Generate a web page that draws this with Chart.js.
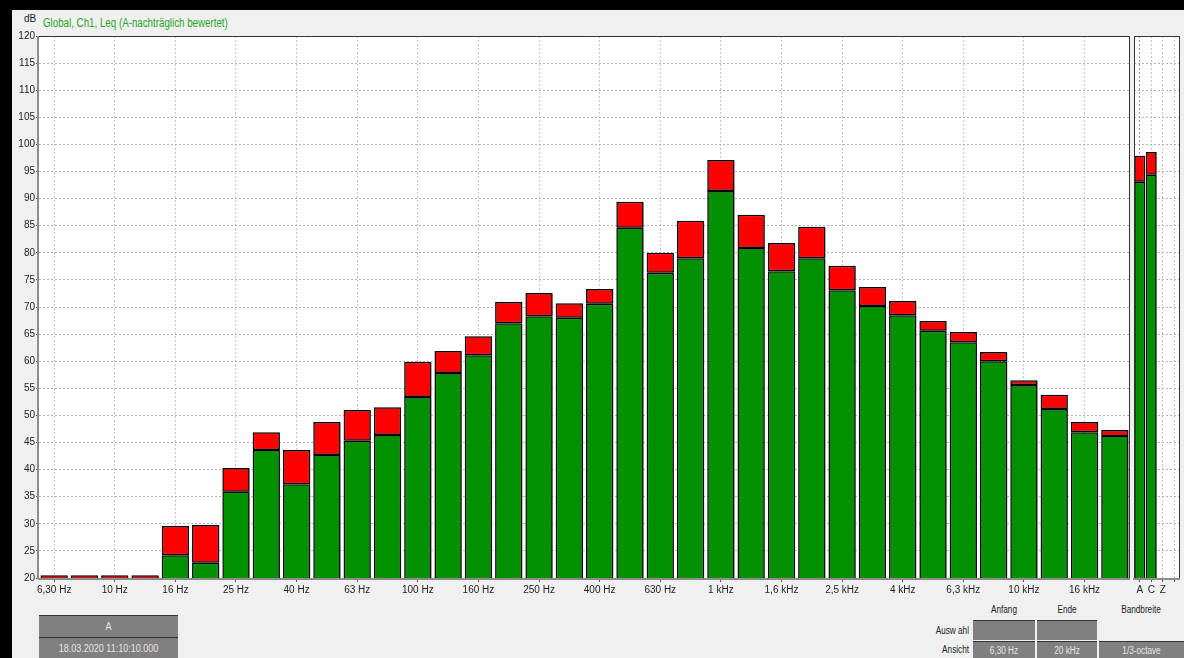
<!DOCTYPE html>
<html lang="de">
<head>
<meta charset="UTF-8">
<title>Global, Ch1, Leq</title>
<script src="https://cdn.jsdelivr.net/npm/chart.js"></script>
<style>
  body { margin: 0; width: 1184px; height: 658px; overflow: hidden; background: #f0f0f0; position: relative;
         font-family: "Liberation Sans", Arial, sans-serif; color: #222; }
  .abs { position: absolute; }
  .narrow { transform: scaleX(0.82); transform-origin: center; white-space: nowrap; }
  #topbar { left: 0; top: 0; width: 1184px; height: 10px; background: #000; }
  #leftbar { left: 0; top: 0; width: 12px; height: 658px; background: #000; }
  #db { left: 24px; top: 13px; font-size: 10px; }
  #title { left: 43px; top: 15px; font-size: 13px; color: #1fa51f; transform: scaleX(0.75); transform-origin: left; white-space: nowrap; }
  .box { background: #808080; color: #e6e6e6; font-size: 11px; text-align: center; border-top: 1px solid #333; box-sizing: border-box; }
  .lbl { font-size: 10px; color: #222; }
  canvas { position: absolute; }
</style>
</head>
<body>
<div class="abs" id="topbar"></div>
<div class="abs" id="leftbar"></div>
<div class="abs" id="db">dB</div>
<div class="abs" id="title">Global, Ch1, Leq (A-nachträglich bewertet)</div>

<canvas id="main" width="1131" height="600" style="left:0;top:0"></canvas>
<canvas id="acz" width="50" height="600" style="left:1132px;top:0"></canvas>

<div class="abs box" style="left:39px;top:615px;width:139px;height:22px;line-height:21px"><div class="narrow">A</div></div>
<div class="abs box" style="left:39px;top:637px;width:139px;height:21px;line-height:20px"><div class="narrow">18.03.2020 11:10:10.000</div></div>

<div class="abs lbl" style="left:973px;top:604px;width:62px;text-align:center"><div class="narrow">Anfang</div></div>
<div class="abs lbl" style="left:1037px;top:604px;width:60px;text-align:center"><div class="narrow">Ende</div></div>
<div class="abs lbl" style="left:1099px;top:604px;width:84px;text-align:center"><div class="narrow">Bandbreite</div></div>
<div class="abs lbl" style="left:900px;top:625px;width:69px;text-align:right"><div class="narrow" style="transform-origin:right">Ausw ahl</div></div>
<div class="abs lbl" style="left:900px;top:644px;width:69px;text-align:right"><div class="narrow" style="transform-origin:right">Ansicht</div></div>
<div class="abs box" style="left:973px;top:620px;width:62px;height:20px"></div>
<div class="abs box" style="left:1037px;top:620px;width:60px;height:20px"></div>
<div class="abs box" style="left:973px;top:641px;width:62px;height:17px;line-height:17px;font-size:10px"><div class="narrow">6,30 Hz</div></div>
<div class="abs box" style="left:1037px;top:641px;width:60px;height:17px;line-height:17px;font-size:10px"><div class="narrow">20 kHz</div></div>
<div class="abs box" style="left:1099px;top:641px;width:85px;height:17px;line-height:17px;font-size:10px"><div class="narrow">1/3-octave</div></div>

<script>
// Terzbänder 6,3 Hz .. 20 kHz
const bands = ['6,30 Hz','8 Hz','10 Hz','12,5 Hz','16 Hz','20 Hz','25 Hz','31,5 Hz','40 Hz','50 Hz',
  '63 Hz','80 Hz','100 Hz','125 Hz','160 Hz','200 Hz','250 Hz','315 Hz','400 Hz','500 Hz',
  '630 Hz','800 Hz','1 kHz','1,25 kHz','1,6 kHz','2 kHz','2,5 kHz','3,15 kHz','4 kHz','5 kHz',
  '6,3 kHz','8 kHz','10 kHz','12,5 kHz','16 kHz','20 kHz'];
// unterer (grüner) Pegel
const levelLow = [null, null, null, null, 24.2, 22.8, 35.9, 43.6, 37.3, 42.7,
  45.3, 46.4, 53.4, 57.8, 61.1, 67.0, 68.3, 68.0, 70.6, 84.6,
  76.3, 79.0, 91.4, 80.9, 76.6, 79.0, 73.1, 70.2, 68.5, 65.6,
  63.5, 60.0, 55.6, 51.2, 46.9, 46.2];
// oberer (roter) Pegel
const levelHigh = [20.5, 20.5, 20.5, 20.5, 29.6, 29.8, 40.3, 46.9, 43.6, 48.8,
  51.0, 51.5, 59.9, 61.9, 64.6, 70.9, 72.6, 70.7, 73.3, 89.4,
  80.0, 85.9, 97.1, 87.0, 81.8, 84.8, 77.6, 73.7, 71.1, 67.4,
  65.4, 61.7, 56.5, 53.8, 48.8, 47.3];
// Summenpegel
const sumLabels = ['A', 'C', 'Z', ''];
const sumLow = [93.1, 94.4, null, null];
const sumHigh = [97.9, 98.6, null, null];

const yMin = 20, yMax = 120, yStep = 5;
const GREEN = '#009000', RED = '#ff0000';

function diff(hi, lo) {
  return hi.map((v, i) => v == null ? null : v - (lo[i] == null ? 0 : lo[i]));
}

function makeFrame(axisLeft) {
  return {
    id: 'frame',
    beforeDraw(chart) {
      const a = chart.chartArea, c = chart.ctx;
      c.save();
      c.fillStyle = '#fff';
      c.fillRect(a.left, a.top, a.right - a.left, a.bottom - a.top);
      c.restore();
    },
    beforeDatasetsDraw(chart) {
      const c = chart.ctx;
      c.save();
      c.shadowColor = 'rgba(0,0,0,0.35)';
      c.shadowOffsetX = 1;
      c.shadowOffsetY = 1;
      c.shadowBlur = 1;
    },
    afterDatasetsDraw(chart) {
      chart.ctx.restore();
    },
    afterDraw(chart) {
      const a = chart.chartArea, c = chart.ctx;
      c.save();
      c.strokeStyle = '#333';
      c.lineWidth = 1;
      c.beginPath();
      c.moveTo(a.left, a.top + 0.5);
      c.lineTo(a.right - 0.5, a.top + 0.5);
      c.lineTo(a.right - 0.5, a.bottom);
      if (!axisLeft) { c.moveTo(a.left + 0.5, a.top); c.lineTo(a.left + 0.5, a.bottom); }
      c.stroke();
      c.strokeStyle = '#8c8c8c';
      c.lineWidth = 2;
      c.beginPath();
      if (axisLeft) { c.moveTo(a.left - 1, a.top); c.lineTo(a.left - 1, a.bottom + 1); }
      c.moveTo(a.left - 1, a.bottom + 1);
      c.lineTo(a.right, a.bottom + 1);
      c.stroke();
      c.restore();
    }
  };
}

const font = { family: '"Liberation Sans", Arial, sans-serif', size: 10 };
Chart.defaults.color = '#222';

function barSet(data, color) {
  return {
    data: data,
    backgroundColor: color,
    borderColor: '#000',
    borderWidth: 1.5,
    borderSkipped: false,
    barPercentage: 0.9,
    categoryPercentage: 1.0
  };
}

new Chart(document.getElementById('main'), {
  type: 'bar',
  data: {
    labels: bands,
    datasets: [barSet(levelLow, GREEN), barSet(diff(levelHigh, levelLow), RED)]
  },
  options: {
    responsive: false,
    animation: false,
    devicePixelRatio: 1,
    layout: { padding: { top: 36, right: 1, left: 0, bottom: 0 } },
    plugins: { legend: { display: false }, tooltip: { enabled: false } },
    scales: {
      x: {
        stacked: true,
        afterFit(s) { s.height = 22; },
        grid: {
          offset: false,
          color: ctx => ctx.index % 2 === 0 ? '#c4c4c4' : 'transparent',
          tickColor: ctx => ctx.index % 2 === 0 ? '#555' : 'transparent',
          tickLength: 4,
          lineWidth: 1
        },
        border: { display: false, dash: [2, 2] },
        ticks: {
          autoSkip: false, maxRotation: 0, font: font, padding: 2,
          callback: (v, i) => i % 2 === 0 ? bands[i] : ''
        }
      },
      y: {
        stacked: true,
        min: yMin, max: yMax,
        afterFit(s) { s.width = 39; },
        grid: { color: '#b4b4b4', tickColor: '#555', tickLength: 3, lineWidth: 1 },
        border: { display: false, dash: [2, 2] },
        ticks: { stepSize: yStep, font: font, padding: 1 }
      }
    }
  },
  plugins: [makeFrame(true)]
});

new Chart(document.getElementById('acz'), {
  type: 'bar',
  data: {
    labels: sumLabels,
    datasets: [
      Object.assign(barSet(sumLow, GREEN), { barPercentage: 0.95 }),
      Object.assign(barSet(diff(sumHigh, sumLow), RED), { barPercentage: 0.95 })
    ]
  },
  options: {
    responsive: false,
    animation: false,
    devicePixelRatio: 1,
    layout: { padding: { top: 36, right: 2, left: 2, bottom: 0 } },
    plugins: { legend: { display: false }, tooltip: { enabled: false } },
    scales: {
      x: {
        stacked: true,
        afterFit(s) { s.height = 22; },
        grid: {
          offset: false,
          color: ctx => ctx.index === 0 ? '#9a9a9a' : '#c4c4c4',
          tickColor: '#555',
          tickLength: 4
        },
        border: { display: false, dash: [2, 2] },
        ticks: { autoSkip: false, maxRotation: 0, font: font, padding: 2 }
      },
      y: {
        stacked: true,
        min: yMin, max: yMax,
        afterFit(s) { s.width = 0; },
        grid: { color: '#b4b4b4', drawTicks: false },
        border: { display: false, dash: [2, 2] },
        ticks: { display: false, stepSize: yStep }
      }
    }
  },
  plugins: [makeFrame(false)]
});
</script>
</body>
</html>
